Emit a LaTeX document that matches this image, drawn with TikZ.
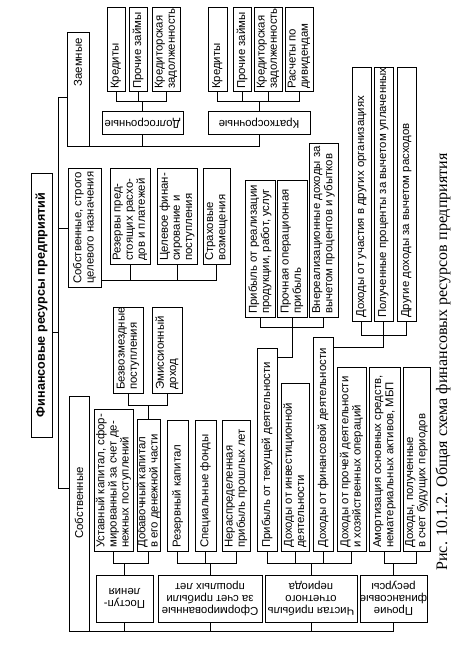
\documentclass[tikz,border=0pt]{standalone}
\usepackage{fontspec}
\setmainfont{Liberation Sans}
\newfontfamily\capfont{Liberation Serif}
\tikzset{
  ln/.style={line width=1pt},
  bx/.style={draw, line width=1pt, inner sep=0pt},
  tx/.style={rotate=90, align=left, inner sep=0pt, font=\fontsize{11.4}{12.2}\selectfont},
  txtwo/.style={rotate=180, align=center, inner sep=0pt, font=\fontsize{11.4}{12.2}\selectfont},
}
\newcommand\LeafBox[6]{%
  \node[bx, minimum width={(#4-#2)*1pt}, minimum height={(#5-#3)*1pt}] (#1) at ({(#2+#4)/2},{(#3+#5)/2}) {};
  \node[tx, anchor=west] (#1t) at ({(#2+#4)/2},{#5-3}) {#6};}
\newcommand\LvBox[6]{%
  \node[bx, minimum width={(#4-#2)*1pt}, minimum height={(#5-#3)*1pt}] (#1) at ({(#2+#4)/2},{(#3+#5)/2}) {};
  \node[txtwo] (#1t) at (#1.center) {#6};}
\begin{document}
\begin{tikzpicture}[x=1pt,y=-1pt]
\useasboundingbox (0,0) rectangle (464,650);
% root
\node[bx, minimum width=21pt, minimum height=264pt] (root) at (41.5,305) {};
\node[rotate=90, inner sep=0pt, font=\bfseries\fontsize{12.6}{14}\selectfont] (roott) at (root.center) {Финансовые ресурсы предприятий};
% Заемные
\node[bx, minimum width=22pt, minimum height=113pt] (zaem) at (78,89.5) {};
\node[tx, anchor=east] (zaemt) at (78,38) {Заемные};
\LvBox{dolg}{102}{112}{183}{134}{Долгосрочные}
\LeafBox{dk1}{107}{8}{125}{92}{Кредиты}
\LeafBox{dk2}{129}{8}{147}{92}{Прочие займы}
\LeafBox{dk3}{152}{8}{180}{92}{Кредиторская\\задолженность}
\LvBox{krat}{208}{112}{310}{134}{Краткосрочные}
\LeafBox{kk1}{208}{8}{227}{92}{Кредиты}
\LeafBox{kk2}{233}{8}{251}{92}{Прочие займы}
\LeafBox{kk3}{254}{8}{282}{92}{Кредиторская\\задолженность}
\LeafBox{kk4}{285}{8}{313}{92}{Расчеты по\\дивидендам}
% Собственные, строго целевого назначения
\LeafBox{ssc}{68}{168}{101}{287}{Собственные, строго\\целевого назначения}
\LeafBox{rzp}{110}{168}{150}{264}{Резервы пред-\\стоящих расхо-\\дов и платежей}
\LeafBox{celf}{157}{168}{197}{264}{Целевое финан-\\сирование и\\поступления}
\LeafBox{strah}{203}{168}{230}{264}{Страховые\\возмещения}
% Собственные
\node[bx, minimum width=20pt, minimum height=235pt] (sob) at (79,513.5) {};
\node[tx, anchor=center] (sobt) at (79,503) {Собственные};
\LvBox{post}{96}{575}{153}{622}{Поступ-\\ления}
\LvBox{sform}{158}{575}{262}{622}{Сформированные\\за счет прибыли\\прошлых лет}
\LvBox{chist}{265}{575}{357}{622}{Чистая прибыль\\отчетного\\периода}
\LvBox{proch}{360}{575}{427}{622}{Прочие\\финансовые\\ресурсы}
\LeafBox{ust}{94}{409}{133}{551}{Уставный капитал, сфор-\\мированный за счет де-\\нежных поступлений}
\LeafBox{dob}{137}{419}{160}{551}{Добавочный капитал\\в его денежной части}
\LeafBox{rez}{167}{420}{188}{551}{Резервный капитал}
\LeafBox{spec}{195}{420}{216}{551}{Специальные фонды}
\LeafBox{nerp}{222}{420}{250}{551}{Нераспределенная\\прибыль прошлых лет}
\LeafBox{ptek}{257}{348}{277}{551}{Прибыль от текущей деятельности}
\LeafBox{dinv}{281}{383}{309}{551}{Доходы от инвестиционной\\деятельности}
\LeafBox{dfin}{313}{337}{333}{551}{Доходы от финансовой деятельности}
\LeafBox{dpr}{337}{367}{366}{551}{Доходы от прочей деятельности\\и хозяйственных операций}
\LeafBox{amort}{369}{367}{400}{551}{Амортизация основных средств,\\нематериальных активов, МБП}
\LeafBox{dbud}{403}{367}{430}{551}{Доходы, полученные\\в счет будущих периодов}
\LeafBox{bezv}{113}{307}{143}{393}{Безвозмездные\\поступления}
\LeafBox{emis}{152}{307}{182}{393}{Эмиссионный\\доход}
\LeafBox{pr1}{245}{180}{275}{317}{Прибыль от реализации\\продукции, работ, услуг}
\LeafBox{pr2}{277}{180}{307}{317}{Прочная операционная\\прибыль}
\LeafBox{pr3}{309}{143}{338}{317}{Внереализационные доходы за\\вычетом процентов и убытков}
\LeafBox{dd1}{352}{68}{371}{321}{Доходы от участия в других организациях}
\LeafBox{dd2}{374}{68}{393}{321}{Полученные проценты за вычетом уплаченных}
\LeafBox{dd3}{397}{68}{416}{321}{Другие доходы за вычетом расходов}
% caption
\node[rotate=90, inner sep=0pt, font=\capfont\fontsize{16}{18}\selectfont] (cap) at (443,362) {Рис. 10.1.2. Общая схема финансовых ресурсов предприятия};
% level coordinates
\coordinate (tz) at (58,98);
\coordinate (tc) at (58,228);
\coordinate (tr) at (58,332);
\coordinate (ts) at (58,488);
\coordinate (yk) at (0,102);
\coordinate (ys) at (0,280);
\coordinate (yb) at (0,405);
\coordinate (yl) at (0,563);
\coordinate (yu) at (0,327);
\coordinate (yv) at (0,357);
\coordinate (yw) at (0,335);
\coordinate (yx) at (0,347);
% trunk
\draw[ln] (tz -| zaem.west) -- (tz) -- (ts) -- (ts -| sob.west);
\draw[ln] (tc) -- (tc -| ssc.west);
\draw[ln] (tr -| root.east) -- (tr);
% Заемные bus
\draw[ln] (zaem.south east) -- (krat.south |- zaem.south) -- (krat.south);
\draw[ln] (dolg.south) -- (dolg.south |- zaem.south);
\draw[ln] (dk1.south) |- (yk -| dk3.south) -- (dk3.south);
\draw[ln] (dk2.south) -- (dk2.south |- yk);
\draw[ln] (dolg.north) -- (dolg.north |- yk);
\draw[ln] (kk1.south) |- (yk -| kk4.south) -- (kk4.south);
\draw[ln] (kk2.south) -- (kk2.south |- yk);
\draw[ln] (kk3.south) -- (kk3.south |- yk);
\draw[ln] (krat.north) -- (krat.north |- yk);
% Собственные строго
\draw[ln] (ys -| ssc.east) -| (strah.south);
\draw[ln] (rzp.south) -- (rzp.south |- ys);
\draw[ln] (celf.south) -- (celf.south |- ys);
% Собственные bus
\draw[ln] (sob.south east) -- (proch.south |- sob.south) -- (proch.south);
\draw[ln] (post.south) -- (post.south |- sob.south);
\draw[ln] (sform.south) -- (sform.south |- sob.south);
\draw[ln] (chist.south) -- (chist.south |- sob.south);
% leaf brackets
\draw[ln] (ust.south) |- (yl -| dob.south) -- (dob.south);
\draw[ln] (post.north) -- (post.north |- yl);
\draw[ln] (rez.south) |- (yl -| nerp.south) -- (nerp.south);
\draw[ln] (spec.south) -- (spec.south |- yl);
\draw[ln] (sform.north) -- (sform.north |- yl);
\draw[ln] (ptek.south) |- (yl -| dpr.south) -- (dpr.south);
\draw[ln] (dinv.south) -- (dinv.south |- yl);
\draw[ln] (dfin.south) -- (dfin.south |- yl);
\draw[ln] (chist.north) -- (chist.north |- yl);
\draw[ln] (amort.south) |- (yl -| dbud.south) -- (dbud.south);
\draw[ln] (proch.north) -- (proch.north |- yl);
% Безвозмездные / Эмиссионный
\draw[ln] (bezv.south) |- (yb -| emis.south) -- (emis.south);
\draw[ln] (dob.north) -- (dob.north |- yb);
% upper groups
\draw[ln] (pr1.south) |- (yu -| pr3.south) -- (pr3.south);
\draw[ln] (pr2.south) |- (yv -| ptek.east);
\draw[ln] (dd1.south) |- (yw -| dd3.south) -- (dd3.south);
\draw[ln] (dd2.south) |- (yx -| dfin.east);
\end{tikzpicture}
\end{document}
